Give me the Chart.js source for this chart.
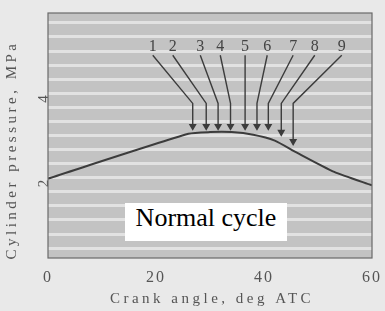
<!DOCTYPE html>
<html>
<head>
<meta charset="utf-8">
<script src="https://cdn.jsdelivr.net/npm/chart.js@4/dist/chart.umd.min.js"></script>
<style>
    html, body { margin: 0; padding: 0; background: #e9e9e9; }
    #wrap { position: relative; width: 385px; height: 311px; }
    #note {
        position: absolute; left: 125px; top: 203px; width: 162px; height: 38px;
        background: #fff; color: #000; text-align: center; line-height: 38px;
        font: 26px 'Liberation Serif', 'Times New Roman', serif;
    }
</style>
</head>
<body>
<div id="wrap">
    <canvas id="pressureChart" width="385" height="311"></canvas>
    <div id="note">Normal cycle</div>
</div>
<script>
// Cylinder pressure curve (crank angle deg ATC, MPa)
const crankAngle = [0, 26, 30, 34, 38, 42, 46, 53, 60];
const pressure = [1.98, 3.04, 3.08, 3.08, 3.02, 2.88, 2.6, 2.14, 1.82];

// Numbered arrows: start under the label, bend, tip near the curve
const arrowLabels = ['1', '2', '3', '4', '5', '6', '7', '8', '9'];
const arrowStartX = [19.4, 23.1, 28.2, 31.9, 36.5, 40.6, 45.4, 49.4, 54.4];
const arrowTipX = [26.8, 29.3, 31.5, 33.8, 36.5, 38.7, 40.8, 43.2, 45.4];
const arrowTipY = [3.22, 3.22, 3.22, 3.22, 3.22, 3.22, 3.22, 3.08, 2.86];
const arrowStartY = 4.9;
const arrowBendY = 3.76;
const arrowLabelY = 5.1;

const xTicks = [0, 20, 40, 60];
const yTicks = [2, 4];
const xTitle = 'Crank angle, deg ATC';
const yTitle = 'Cylinder pressure, MPa';

const ink = '#3c3c3c';
const textGrey = '#555';
const serif = "'Liberation Serif', 'Times New Roman', serif";

// grey plot background and frame
const plotFrame = {
    id: 'plotFrame',
    beforeDraw(chart) {
        const { ctx, chartArea: a } = chart;
        ctx.letterSpacing = '2px';   // scanned text is widely spaced
        ctx.save();
        ctx.fillStyle = '#c3c3c3';
        ctx.fillRect(a.left, a.top, a.right - a.left, a.bottom - a.top);
        ctx.restore();
    },
    afterDraw(chart) {
        const { ctx, chartArea: a } = chart;
        ctx.save();
        ctx.strokeStyle = '#6a6a6a';
        ctx.lineWidth = 1.2;
        ctx.strokeRect(a.left, a.top, a.right - a.left, a.bottom - a.top);
        ctx.restore();
    }
};

// numbers above the arrows
const arrowNumbers = {
    id: 'arrowNumbers',
    afterDatasetsDraw(chart) {
        const { ctx, scales } = chart;
        ctx.save();
        ctx.letterSpacing = '0px';
        ctx.font = '16px ' + serif;
        ctx.fillStyle = '#444';
        ctx.textAlign = 'center';
        ctx.textBaseline = 'middle';
        arrowLabels.forEach((lab, i) => {
            const px = scales.x.getPixelForValue(arrowStartX[i]);
            const py = scales.y.getPixelForValue(arrowLabelY);
            ctx.fillText(lab, px, py);
        });
        ctx.restore();
    }
};

// axis titles, drawn by hand so the spacing and offsets match the scan
const axisTitles = {
    id: 'axisTitles',
    afterDraw(chart) {
        const { ctx, chartArea: a } = chart;
        ctx.save();
        ctx.letterSpacing = '3.5px';
        ctx.font = '15px ' + serif;
        ctx.fillStyle = textGrey;
        ctx.textAlign = 'center';
        ctx.textBaseline = 'middle';
        ctx.fillText(xTitle, (a.left + a.right) / 2 + 2, a.bottom + 41);
        ctx.translate(12, a.top + 139);
        ctx.rotate(-Math.PI / 2);
        ctx.fillText(yTitle, 2, 0);
        ctx.restore();
    }
};

const datasets = [{
    label: 'Pressure',
    data: crankAngle.map((x, i) => ({ x: x, y: pressure[i] })),
    borderColor: ink,
    borderWidth: 2,
    pointRadius: 0,
    tension: 0.2,
    fill: false
}];

arrowLabels.forEach((lab, i) => {
    datasets.push({
        label: 'Arrow ' + lab,
        data: [
            { x: arrowStartX[i], y: arrowStartY },
            { x: arrowTipX[i], y: arrowBendY },
            { x: arrowTipX[i], y: arrowTipY[i] }
        ],
        borderColor: ink,
        borderWidth: 1.4,
        pointRadius: [0, 0, 3.2],
        pointStyle: 'triangle',
        rotation: 180,
        pointBackgroundColor: ink,
        pointBorderColor: ink,
        tension: 0,
        fill: false
    });
});

new Chart(document.getElementById('pressureChart'), {
    type: 'line',
    data: { datasets: datasets },
    options: {
        responsive: false,
        animation: false,
        layout: { padding: { top: 12, right: 13, left: 0, bottom: 0 } },
        plugins: {
            legend: { display: false },
            tooltip: { enabled: false }
        },
        scales: {
            x: {
                type: 'linear',
                min: 0,
                max: 60,
                afterBuildTicks: scale => { scale.ticks = xTicks.map(v => ({ value: v })); },
                afterFit: scale => { scale.height = 53; },
                grid: { display: false },
                border: { display: false },
                ticks: {
                    color: textGrey,
                    font: { family: serif, size: 16 },
                    padding: 2,
                    maxRotation: 0
                }
            },
            y: {
                type: 'linear',
                min: 0.1,
                max: 5.9,
                // white stripes every 1/3 MPa, labels only at 2 and 4
                afterBuildTicks: scale => {
                    const t = [];
                    for (let k = 1; k <= 17; k++) t.push({ value: k / 3 });
                    scale.ticks = t;
                },
                afterFit: scale => { scale.width = 48; },
                grid: { color: '#e2e2e2', lineWidth: 3, drawTicks: false },
                border: { display: false },
                ticks: {
                    color: textGrey,
                    font: { family: serif, size: 15 },
                    padding: 4,
                    minRotation: 90,
                    maxRotation: 90,
                    callback: v => {
                        const hit = yTicks.find(t => Math.abs(t - v) < 1e-6);
                        return hit !== undefined ? String(hit) : '';
                    }
                }
            }
        }
    },
    plugins: [plotFrame, arrowNumbers, axisTitles]
});
</script>
</body>
</html>
